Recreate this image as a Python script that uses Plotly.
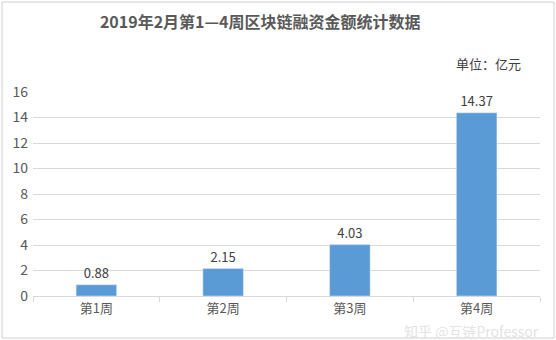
import plotly.graph_objects as go

categories = ["第1周", "第2周", "第3周", "第4周"]
values = [0.88, 2.15, 4.03, 14.37]
value_labels = ["0.88", "2.15", "4.03", "14.37"]
y_ticks = [0, 2, 4, 6, 8, 10, 12, 14, 16]

FONT = "Noto Sans CJK SC"
W, H = 556, 340
L, R, T, B = 33, 16, 92, 44
PW, PH = W - L - R, H - T - B


def px(x):
    return (x - L) / PW


def py(y):
    return (H - B - y) / PH


fig = go.Figure()
fig.add_trace(go.Bar(
    x=categories, y=values, text=value_labels, textposition="outside",
    textfont=dict(family=FONT, size=13, color="#404040"),
    marker=dict(color="#5B9BD5"), cliponaxis=False, width=0.32,
))

fig.update_layout(
    width=W, height=H,
    margin=dict(l=L, r=R, t=T, b=B),
    paper_bgcolor="white", plot_bgcolor="white",
    showlegend=False,
    font=dict(family=FONT, color="#595959", size=13),
    title=dict(text="<b>2019年2月第1—4周区块链融资金额统计数据</b>",
               x=0.468, xanchor="center", y=0.935, yanchor="middle",
               font=dict(family=FONT, size=16, color="#595959")),
    xaxis=dict(showgrid=False, showline=True, linecolor="#D9D9D9", linewidth=1,
               ticks="outside", ticklen=5, tickcolor="#D9D9D9",
               tickson="boundaries", tickfont=dict(size=13, color="#595959")),
    yaxis=dict(range=[0, 16], tickvals=y_ticks, showgrid=True, gridcolor="#D9D9D9",
               gridwidth=1, zeroline=False, showline=False,
               tickfont=dict(size=14, color="#595959"), ticklabelstandoff=4),
    annotations=[
        dict(text="单位：亿元", x=px(523), y=py(63), xref="paper", yref="paper",
             xanchor="right", yanchor="middle", showarrow=False,
             font=dict(family=FONT, size=13, color="#404040")),
        dict(text="知乎 @互链Professor", x=px(541), y=py(319), xref="paper", yref="paper",
             xanchor="right", yanchor="top", showarrow=False,
             font=dict(family=FONT, size=14, color="#E3E3E3")),
    ],
)

fig.add_shape(type="rect", xref="paper", yref="paper",
              x0=px(2), x1=px(554), y0=py(338), y1=py(2),
              line=dict(color="#D0D0D0", width=1))

fig.write_html("out.html")
